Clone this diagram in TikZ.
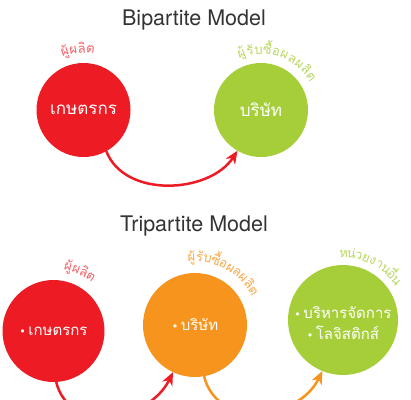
\documentclass[tikz,border=0pt]{standalone}
\usepackage{fontspec}
\setmainfont{TeX Gyre Heros}
\newfontfamily\thaifont[Script=Thai]{Loma}
\newfontfamily\dvfont{DejaVu Sans}
\usetikzlibrary{arrows.meta,calc}
\definecolor{cred}{HTML}{ED1C24}
\definecolor{cgreen}{HTML}{A6CE39}
\definecolor{corange}{HTML}{F7941D}
\definecolor{ctitle}{HTML}{333333}
\newcommand\arclab[7]{%
  \foreach \cl [count=\i from 0] in {#7} {%
    \pgfmathsetmacro\ang{#4-\i*(#5)}%
    \node[lab,text=#6,rotate=\ang-90,anchor=base] (#1\i) at ($(#2)+(\ang:#3)$) {\cl};
  }}
\tikzset{
  circ/.style={circle,inner sep=0pt,outer sep=0pt,text=white,align=center},
  bigtxt/.style={font=\thaifont\fontsize{17}{20}\selectfont},
  smalltxt/.style={font=\thaifont\fontsize{15}{21}\selectfont},
  lab/.style={inner sep=0pt,outer sep=0pt,font=\thaifont\fontsize{13}{14}\selectfont},
  ttl/.style={text=ctitle,font=\fontsize{21.5}{24}\selectfont},
  arr/.style={line width=2.5pt,-{Stealth[length=13pt,width=11pt,inset=4pt]}},
}
\newcommand\bul{{\dvfont\fontsize{11}{14}\selectfont •}\,}
\begin{document}
\begin{tikzpicture}[x=1pt,y=1pt]
\useasboundingbox (0,0) rectangle (411,-399);
\clip (0,0) rectangle (411,-399);
% Bipartite
\node[ttl] (t1) at (194,-20) {Bipartite Model};
\node[circ,fill=cred,minimum size=94pt,bigtxt] (farm) at (83.5,-110) {\raisebox{-2pt}{เกษตรกร}};
\node[circ,fill=cgreen,minimum size=94pt,bigtxt] (comp) at (261,-110) {\raisebox{-2pt}{บริษัท}};
\arclab{la}{farm}{57}{108}{8.2}{cred!70!white}{ผู้,ผ,ลิ,ต}
\arclab{lb}{comp}{56}{109}{8.4}{cgreen!80!white}{ผู้,รั,บ,ซื้,อ,ผ,ล,ผ,ลิ,ต}
\draw[arr,cred] (farm.-61) to[out=-69,in=-123,out distance=51pt,in distance=51pt] (comp.-120);
% Tripartite
\node[ttl] (t2) at (194,-226) {Tripartite Model};
\node[circ,fill=cred,minimum size=102pt,smalltxt] (farm2) at (53.5,-331) {\raisebox{-3pt}{\bul เกษตรกร}};
\node[circ,fill=corange,minimum size=104pt,smalltxt] (comp2) at (195,-325) {\raisebox{-2pt}{\bul บริษัท}};
\node[circ,fill=cgreen,minimum size=110pt] (other) at (343,-320) {};
\node[text=white,align=center,smalltxt,inner sep=0pt] (othertxt) at (343,-323) {\bul บริหารจัดการ\\\bul โลจิสติกส์};
\arclab{lc}{farm2}{62}{77}{7.2}{cred!70!white}{ผู้,ผ,ลิ,ต}
\arclab{ld}{comp2}{63.5}{93}{6.95}{corange!80!white}{ผู้,รั,บ,ซื้,อ,ผ,ล,ผ,ลิ,ต}
\arclab{le}{other}{62.5}{89.5}{6.6}{cgreen!80!white}{ห,น่,ว,ย,ง,า,น,อื่,น}
\draw[arr,cred] (farm2.-87) to[out=-76,in=-116,out distance=55pt,in distance=55pt] (comp2.-115);
\draw[arr,corange] (comp2.-80) to[out=-76,in=-116,out distance=55pt,in distance=55pt] (other.-112);
\end{tikzpicture}
\end{document}
